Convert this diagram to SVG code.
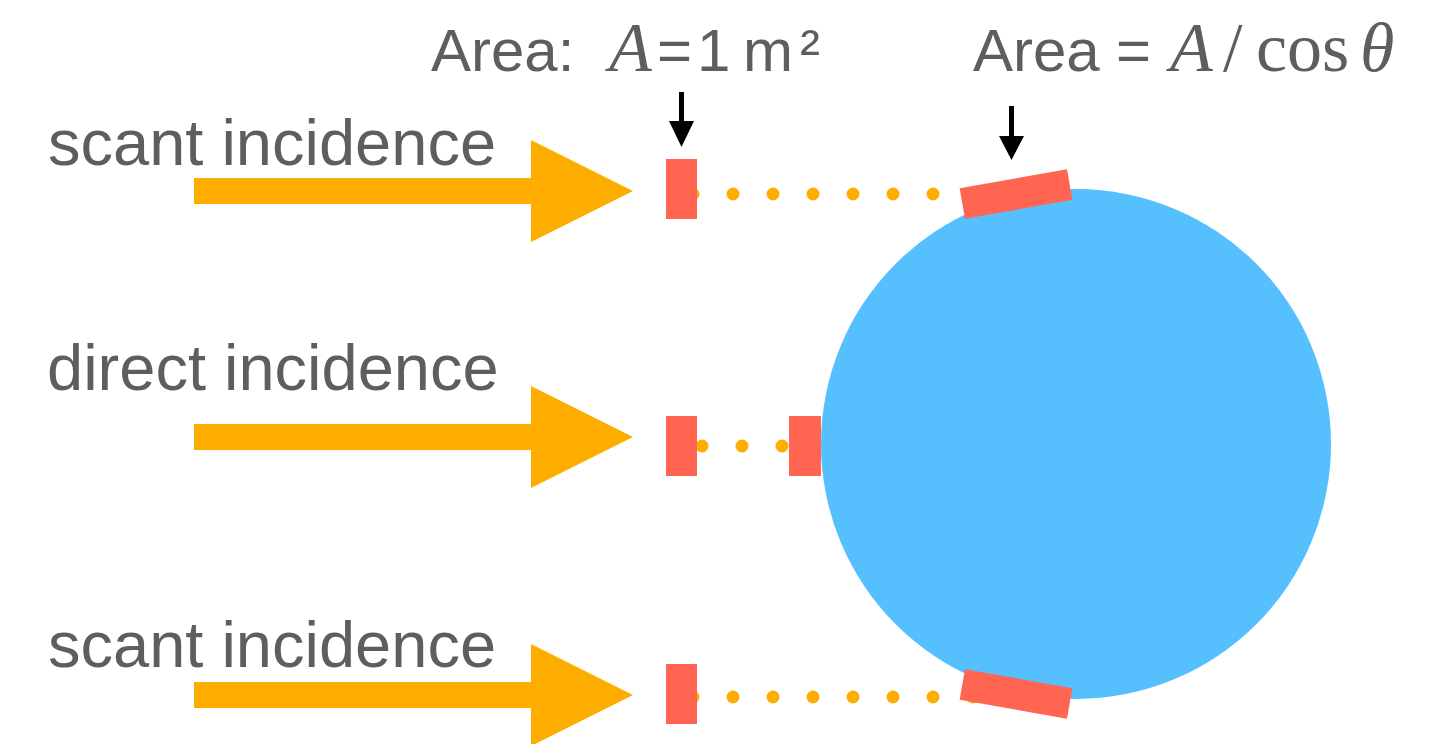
<svg xmlns="http://www.w3.org/2000/svg" width="1434" height="744" viewBox="0 0 1434 744">
<style>
.lbl{font-family:"Liberation Sans",Arial,sans-serif;font-size:65px;fill:#5e5e5e}
.ttl{font-family:"Liberation Sans",Arial,sans-serif;font-size:60px;fill:#5e5e5e}
.math{font-family:"Liberation Serif","Times New Roman",serif;font-size:70px;fill:#5e5e5e}
.beam{fill:#ffae00}
.patch{fill:#ff6550}
.dot{fill:#ffae00}
.down{fill:#000}
</style>
<rect width="1434" height="744" fill="#fff"/>
<g id="planet">
<circle cx="1076" cy="444" r="255" fill="#56bffe"/>
</g>
<g id="connectors">
<g id="dots-top">
<circle class="dot" cx="693" cy="194" r="6.5"/><circle class="dot" cx="733" cy="194" r="6.5"/><circle class="dot" cx="773" cy="194" r="6.5"/><circle class="dot" cx="813" cy="194" r="6.5"/><circle class="dot" cx="853" cy="194" r="6.5"/><circle class="dot" cx="893" cy="194" r="6.5"/><circle class="dot" cx="933" cy="194" r="6.5"/>
</g>
<g id="dots-mid">
<circle class="dot" cx="702" cy="446" r="6.5"/><circle class="dot" cx="742" cy="446" r="6.5"/><circle class="dot" cx="782" cy="446" r="6.5"/>
</g>
<g id="dots-bot">
<circle class="dot" cx="693" cy="697" r="6.5"/><circle class="dot" cx="733" cy="697" r="6.5"/><circle class="dot" cx="773" cy="697" r="6.5"/><circle class="dot" cx="813" cy="697" r="6.5"/><circle class="dot" cx="853" cy="697" r="6.5"/><circle class="dot" cx="893" cy="697" r="6.5"/><circle class="dot" cx="933" cy="697" r="6.5"/><circle class="dot" cx="973" cy="697" r="6.5"/>
</g>
</g>
<g id="beam-top"><path class="beam" d="M194 178H531V140L633 191L531 242V204H194Z"/></g>
<g id="beam-mid"><path class="beam" d="M194 424H531V386L633 437L531 488V450H194Z"/></g>
<g id="beam-bot"><path class="beam" d="M194 682H531V644L633 695L531 746V708H194Z"/></g>
<g id="patch-top-left"><rect class="patch" x="666" y="159" width="31" height="60"/></g>
<g id="patch-mid-left"><rect class="patch" x="666" y="416" width="31" height="60"/></g>
<g id="patch-bot-left"><rect class="patch" x="666" y="664" width="31" height="60"/></g>
<g id="patch-mid-right"><rect class="patch" x="789" y="416" width="32" height="60"/></g>
<g id="patch-top-right"><rect class="patch" x="-54.5" y="-15.5" width="109" height="31" transform="translate(1016 194) rotate(-10)"/></g>
<g id="patch-bot-right"><rect class="patch" x="-54.5" y="-15.5" width="109" height="31" transform="translate(1016 694) rotate(10)"/></g>
<g id="label-scant-top"><text class="lbl" x="48" y="165">scant incidence</text></g>
<g id="label-direct"><text class="lbl" x="47" y="390">direct incidence</text></g>
<g id="label-scant-bot"><text class="lbl" x="48" y="667">scant incidence</text></g>
<g id="title-left">
<text x="431" y="71"><tspan class="ttl">Area:</tspan><tspan class="math" x="609" font-style="italic">A</tspan><tspan class="ttl" x="657">=</tspan><tspan class="ttl" x="697">1</tspan><tspan class="ttl" x="743">m</tspan><tspan class="ttl" x="800">²</tspan></text>
<path class="down" d="M679 92H684V121H694L681.5 147L669 121H679Z"/>
</g>
<g id="title-right">
<text x="973" y="71"><tspan class="ttl">Area</tspan><tspan class="ttl" x="1116">=</tspan><tspan class="math" x="1170" font-style="italic">A</tspan><tspan class="math" x="1223">/</tspan><tspan class="math" x="1256">cos</tspan><tspan class="math" x="1360" font-style="italic" font-size="82">θ</tspan></text>
<path class="down" d="M1009 106H1014V136H1024L1011.5 160L999 136H1009Z"/>
</g>
</svg>
